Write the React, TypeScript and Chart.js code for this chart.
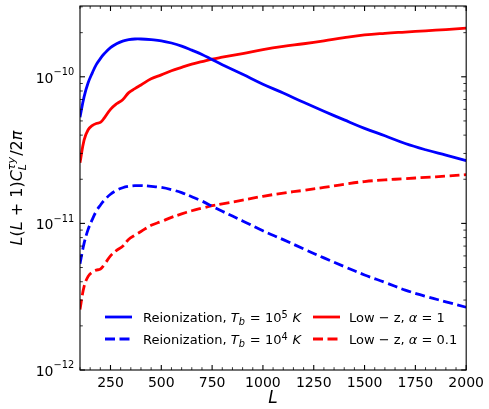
import React, { useEffect, useRef } from "react";
import { Chart, registerables } from "chart.js";

Chart.register(...registerables);

// ---------- data ----------
const multipoles = [
  100, 120, 140, 160, 180, 200, 220, 250, 280, 310, 340, 370, 400, 450, 500, 550, 600, 650,
  700, 750, 800, 900, 1000, 1100, 1200, 1300, 1400, 1500, 1600, 1700, 1800, 1900, 2000,
];

const reionTb1e5 = [
  5.3e-11, 7.3e-11, 9.1e-11, 1.06e-10, 1.21e-10, 1.33e-10, 1.44e-10, 1.58e-10, 1.68e-10,
  1.75e-10, 1.79e-10, 1.81e-10, 1.81e-10, 1.79e-10, 1.76e-10, 1.7e-10, 1.62e-10, 1.52e-10,
  1.42e-10, 1.31e-10, 1.21e-10, 1.04e-10, 8.9e-11, 7.75e-11, 6.7e-11, 5.82e-11, 5.08e-11,
  4.45e-11, 3.96e-11, 3.51e-11, 3.18e-11, 2.92e-11, 2.68e-11,
];

const reionTb1e4 = [
  5.3e-12, 7.3e-12, 9.1e-12, 1.06e-11, 1.21e-11, 1.33e-11, 1.44e-11, 1.58e-11, 1.68e-11,
  1.75e-11, 1.79e-11, 1.81e-11, 1.81e-11, 1.79e-11, 1.76e-11, 1.7e-11, 1.62e-11, 1.52e-11,
  1.42e-11, 1.31e-11, 1.21e-11, 1.04e-11, 8.9e-12, 7.75e-12, 6.7e-12, 5.82e-12, 5.08e-12,
  4.45e-12, 3.96e-12, 3.51e-12, 3.18e-12, 2.92e-12, 2.68e-12,
];

const lowzAlpha1 = [
  2.59e-11, 3.7e-11, 4.35e-11, 4.65e-11, 4.8e-11, 4.88e-11, 5.25e-11, 6.0e-11, 6.55e-11,
  6.98e-11, 7.8e-11, 8.3e-11, 8.8e-11, 9.7e-11, 1.03e-10, 1.1e-10, 1.16e-10, 1.22e-10,
  1.27e-10, 1.32e-10, 1.36e-10, 1.44e-10, 1.53e-10, 1.61e-10, 1.68e-10, 1.76e-10, 1.85e-10,
  1.93e-10, 1.98e-10, 2.02e-10, 2.06e-10, 2.1e-10, 2.15e-10,
];

const lowzAlpha01 = [
  2.59e-12, 3.7e-12, 4.35e-12, 4.65e-12, 4.8e-12, 4.88e-12, 5.25e-12, 6.0e-12, 6.55e-12,
  6.98e-12, 7.8e-12, 8.3e-12, 8.8e-12, 9.7e-12, 1.03e-11, 1.1e-11, 1.16e-11, 1.22e-11,
  1.27e-11, 1.32e-11, 1.36e-11, 1.44e-11, 1.53e-11, 1.61e-11, 1.68e-11, 1.76e-11, 1.85e-11,
  1.93e-11, 1.98e-11, 2.02e-11, 2.06e-11, 2.1e-11, 2.15e-11,
];

const xTickValues = [250, 500, 750, 1000, 1250, 1500, 1750, 2000];
const xMinorStep = 50;
const yDecadeExponents = [-12, -11, -10];
const xMin = 100;
const xMax = 2000;
const yMin = 1e-12;
const yMax = 3.04e-10;

// ---------- rich text ----------
type Seg = { t?: string; it?: boolean; sub?: string; sup?: string; subIt?: boolean; supIt?: boolean };
const FAMILY = '"DejaVu Sans"';
const fontStr = (size: number, it?: boolean) => `${it ? "italic " : ""}${size}px ${FAMILY}`;

function segWidth(ctx: CanvasRenderingContext2D, s: Seg, size: number, sc: number) {
  if (s.sub !== undefined || s.sup !== undefined) {
    let w = 0;
    const ss = size * sc;
    if (s.sub) {
      ctx.font = fontStr(ss, s.subIt);
      w = Math.max(w, ctx.measureText(s.sub).width);
    }
    if (s.sup) {
      ctx.font = fontStr(ss, s.supIt);
      w = Math.max(w, ctx.measureText(s.sup).width);
    }
    return w + size * 0.06;
  }
  ctx.font = fontStr(size, s.it);
  return ctx.measureText(s.t || "").width;
}

function drawRich(
  ctx: CanvasRenderingContext2D,
  segs: Seg[],
  x: number,
  y: number,
  size: number,
  align: "left" | "center" | "right",
  opts: { sc?: number; supRise?: number; subDrop?: number } = {}
) {
  const sc = opts.sc ?? 0.7;
  const supRise = opts.supRise ?? 0.4;
  const subDrop = opts.subDrop ?? 0.2;
  const widths = segs.map((s) => segWidth(ctx, s, size, sc));
  const total = widths.reduce((a, b) => a + b, 0);
  let cx = align === "left" ? x : align === "center" ? x - total / 2 : x - total;
  ctx.textAlign = "left";
  ctx.textBaseline = "alphabetic";
  ctx.fillStyle = "#000";
  segs.forEach((s, i) => {
    if (s.sub !== undefined || s.sup !== undefined) {
      const ss = size * sc;
      if (s.sub) {
        ctx.font = fontStr(ss, s.subIt);
        ctx.fillText(s.sub, cx, y + size * subDrop);
      }
      if (s.sup) {
        ctx.font = fontStr(ss, s.supIt);
        ctx.fillText(s.sup, cx, y - size * supRise);
      }
    } else {
      ctx.font = fontStr(size, s.it);
      ctx.fillText(s.t || "", cx, y);
    }
    cx += widths[i];
  });
}

const yAxisTitle: Seg[] = [
  { t: "L", it: true },
  { t: "(" },
  { t: "L", it: true },
  { t: " + 1)" },
  { t: "C", it: true },
  { sub: "L", sup: "τy", subIt: true, supIt: true },
  { t: "/2" },
  { t: "π", it: true },
];

type LegendItem = { color: string; dashed: boolean; segs: Seg[] };
const legendItems: LegendItem[] = [
  {
    color: "#0000ff",
    dashed: false,
    segs: [{ t: "Reionization, " }, { t: "T", it: true }, { sub: "b", subIt: true }, { t: " = 10" }, { sup: "5" }, { t: " " }, { t: "K", it: true }],
  },
  {
    color: "#0000ff",
    dashed: true,
    segs: [{ t: "Reionization, " }, { t: "T", it: true }, { sub: "b", subIt: true }, { t: " = 10" }, { sup: "4" }, { t: " " }, { t: "K", it: true }],
  },
  {
    color: "#ff0000",
    dashed: false,
    segs: [{ t: "Low" }, { t: " − " }, { t: "z, " }, { t: "α", it: true }, { t: " = 1" }],
  },
  {
    color: "#ff0000",
    dashed: true,
    segs: [{ t: "Low" }, { t: " − " }, { t: "z, " }, { t: "α", it: true }, { t: " = 0.1" }],
  },
];

const DASH = [10, 4.5];

const decorPlugin = {
  id: "decor",
  afterDatasetsDraw(chart: any) {
    const ctx: CanvasRenderingContext2D = chart.ctx;
    const { left, right, top, bottom } = chart.chartArea;
    const xs = chart.scales.x;
    const ys = chart.scales.y;
    ctx.save();
    // frame
    ctx.strokeStyle = "#000";
    ctx.lineWidth = 1.1;
    ctx.setLineDash([]);
    ctx.strokeRect(left, top, right - left, bottom - top);

    const tick = (x1: number, y1: number, x2: number, y2: number, w: number) => {
      ctx.lineWidth = w;
      ctx.beginPath();
      ctx.moveTo(x1, y1);
      ctx.lineTo(x2, y2);
      ctx.stroke();
    };
    // x ticks (inward, bottom and top)
    for (let v = xMin; v <= xMax; v += xMinorStep) {
      const px = xs.getPixelForValue(v);
      const major = xTickValues.includes(v);
      const len = major ? 5 : 2.8;
      const w = major ? 1.1 : 0.8;
      tick(px, bottom, px, bottom - len, w);
      tick(px, top, px, top + len, w);
    }
    // y ticks (inward, left and right)
    yDecadeExponents.forEach((e) => {
      for (let k = 1; k <= 9; k++) {
        const v = k * Math.pow(10, e);
        if (v < yMin || v > yMax) continue;
        const py = ys.getPixelForValue(v);
        const major = k === 1;
        const len = major ? 5 : 2.8;
        const w = major ? 1.1 : 0.8;
        tick(left, py, left + len, py, w);
        tick(right, py, right - len, py, w);
      }
    });
    // y tick labels
    yDecadeExponents.forEach((e) => {
      const py = ys.getPixelForValue(Math.pow(10, e));
      drawRich(ctx, [{ t: "10" }, { sup: "−" + String(Math.abs(e)) }], left - 5, py + 6, 14, "right", {
        sc: 0.7,
        supRise: 0.55,
      });
    });
    // axis titles
    drawRich(ctx, [{ t: "L", it: true }], (left + right) / 2, 403, 17, "center");
    ctx.save();
    ctx.translate(22, (top + bottom) / 2);
    ctx.rotate(-Math.PI / 2);
    drawRich(ctx, yAxisTitle, 0, 0, 16, "center", { sc: 0.7, supRise: 0.42, subDrop: 0.22 });
    ctx.restore();

    // legend
    const cols = [
      { lx1: 105, lx2: 132, tx: 143 },
      { lx1: 313, lx2: 340, tx: 349 },
    ];
    const rows = [317, 339];
    legendItems.forEach((it, i) => {
      const c = cols[Math.floor(i / 2)];
      const ry = rows[i % 2];
      ctx.strokeStyle = it.color;
      ctx.lineWidth = 2.8;
      ctx.setLineDash(it.dashed ? DASH : []);
      ctx.beginPath();
      ctx.moveTo(c.lx1, ry);
      ctx.lineTo(c.lx2, ry);
      ctx.stroke();
      ctx.setLineDash([]);
      drawRich(ctx, it.segs, c.tx, ry + 5.3, 13, "left", { sc: 0.75, supRise: 0.32, subDrop: 0.2 });
    });
    ctx.restore();
  },
};

function makeDataset(values: number[], color: string, dashed: boolean) {
  return {
    data: multipoles.map((l, i) => ({ x: l, y: values[i] })),
    borderColor: color,
    backgroundColor: color,
    borderWidth: 2.8,
    borderDash: dashed ? DASH : [],
    borderJoinStyle: "round" as const,
    pointRadius: 0,
    fill: false,
    tension: 0.4,
  };
}

export default function App() {
  const ref = useRef<HTMLCanvasElement | null>(null);
  useEffect(() => {
    document.body.style.margin = "0";
    const canvas = ref.current!;
    const chart = new Chart(canvas, {
      type: "line",
      data: {
        datasets: [
          makeDataset(reionTb1e5, "#0000ff", false),
          makeDataset(reionTb1e4, "#0000ff", true),
          makeDataset(lowzAlpha1, "#ff0000", false),
          makeDataset(lowzAlpha01, "#ff0000", true),
        ],
      },
      options: {
        animation: false,
        responsive: false,
        devicePixelRatio: 1,
        layout: { padding: { left: 0, top: 6, right: 22, bottom: 0 } },
        plugins: { legend: { display: false }, tooltip: { enabled: false } },
        scales: {
          x: {
            type: "linear",
            min: xMin,
            max: xMax,
            grid: { display: false, drawTicks: false },
            border: { display: false },
            afterBuildTicks: (scale: any) => {
              scale.ticks = xTickValues.map((v) => ({ value: v }));
            },
            afterFit: (scale: any) => {
              scale.height = 39;
            },
            ticks: {
              color: "#000",
              padding: 5,
              maxRotation: 0,
              autoSkip: false,
              font: { family: "DejaVu Sans", size: 14 },
              callback: (v: any) => String(v),
            },
          },
          y: {
            type: "logarithmic",
            min: yMin,
            max: yMax,
            grid: { display: false, drawTicks: false },
            border: { display: false },
            ticks: { display: false },
            afterFit: (scale: any) => {
              scale.width = 80;
            },
          },
        },
      },
      plugins: [decorPlugin],
    } as any);
    return () => chart.destroy();
  }, []);
  return (
    <div style={{ width: 489, height: 409 }}>
      <canvas ref={ref} width={489} height={409} style={{ display: "block" }} />
    </div>
  );
}
